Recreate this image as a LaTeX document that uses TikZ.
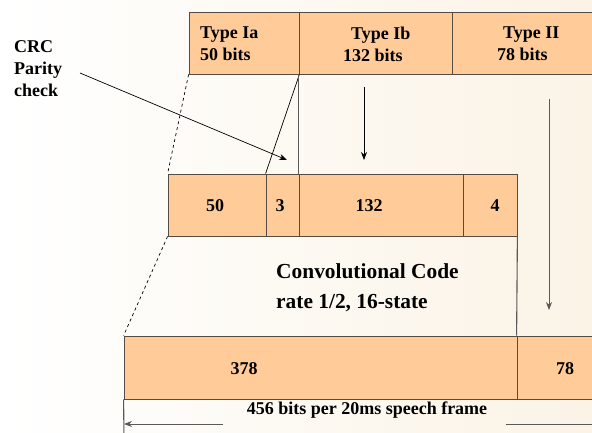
\documentclass[tikz,border=0pt]{standalone}
\usepackage{fontspec}
\setmainfont{Liberation Serif}
\usetikzlibrary{arrows.meta}
\definecolor{peach}{RGB}{255,204,153}
\definecolor{cream}{RGB}{251,243,230}
\definecolor{edge}{RGB}{85,75,65}
\tikzset{
  cell/.style={draw=edge, fill=peach, rectangle, minimum height=62pt, inner sep=0pt, line width=0.8pt},
  txt/.style={font=\fontsize{18}{22}\selectfont\bfseries, inner sep=0pt, align=left},
  link/.style={line width=0.7pt},
  guide/.style={draw=black!65, line width=1.1pt}
}
\begin{document}
\begin{tikzpicture}[>={Stealth[length=8pt,width=6pt]}, x=1pt, y=-1pt]
\useasboundingbox (0,0) rectangle (592,433);
\clip (0,0) rectangle (592,433);
% slide background, white to cream from left to right
\foreach \i in {0,...,36}{
  \pgfmathtruncatemacro\p{100*\i/36}
  \fill[cream!\p!white] (\i*16,0) rectangle (\i*16+16.5,433);
}

% speech coder output
\node(Ia)[cell, minimum width=110pt] at (244,43){};
\node(Ib)[cell, minimum width=153pt] at (375.5,43){};
\node(II)[cell, minimum width=160pt] at (532,43){};
\node(tIa)[txt, anchor=west] at (200,44){Type Ia\\50 bits};
\node(tIb)[txt, anchor=west] at (343,44){\hspace{8pt}Type Ib\\132 bits};
\node(tII)[txt, anchor=west] at (497,44){\hspace{6pt}Type II\\78 bits};

% parity and tail bits added
\node(m50)[cell, minimum width=98pt] at (217,205){};
\node(m3)[cell, minimum width=33pt] at (282.5,205){};
\node(m132)[cell, minimum width=164pt] at (381,205){};
\node(m4)[cell, minimum width=54pt] at (490,205){};
\node(t50)[txt] at (215,206){50};
\node(t3)[txt] at (280,206){3};
\node(t132)[txt] at (369,206){132};
\node(t4)[txt] at (495,206){4};

% coded block
\node(b378)[cell, minimum width=393pt, minimum height=63pt] at (320.5,367.5){};
\node(b78)[cell, minimum width=103pt, minimum height=63pt] at (568.5,367.5){};
\node(t378)[txt] at (244,369){378};
\node(t78)[txt] at (565,369){78};

\node(crc)[txt, anchor=west] at (14,69){CRC\\Parity\\check};
\node(conv)[font=\fontsize{21.4}{30}\selectfont\bfseries, align=left, anchor=west, inner sep=0pt] at (276,288){Convolutional Code\\rate 1/2, 16-state};
\node(frame)[txt] at (367,410){456 bits per 20ms speech frame};

\coordinate(crcA) at (80,73);
\coordinate(crcB) at (287,160);
\coordinate(ibA) at (364,87);
\coordinate(ibB) at (364,160);
\coordinate(iiA) at (549,99);
\coordinate(iiB) at (549,310);
\coordinate(tick) at (124,440);
\coordinate(fl) at (124,424);
\coordinate(flA) at (223,424);
\coordinate(frA) at (506,424);
\coordinate(fr) at (610,424);

\draw[link, dashed](Ia.south west)--(m50.north west);
\draw[link, dashed](m50.south west)--(b378.north west);
\draw[link](Ia.south east)--(m3.north west);
\draw[guide](Ib.south west)--(m132.north west);
\draw[guide](m4.south east)--(b78.north west);
\draw[guide](b378.south west)--(tick);

\draw[->, link](crcA)--(crcB);
\draw[->, link](ibA)--(ibB);
\draw[->, guide, line width=0.8pt](iiA)--(iiB);
\draw[->, guide, line width=0.8pt](flA)--(fl);
\draw[->, guide, line width=0.8pt](frA)--(fr);
\end{tikzpicture}
\end{document}
